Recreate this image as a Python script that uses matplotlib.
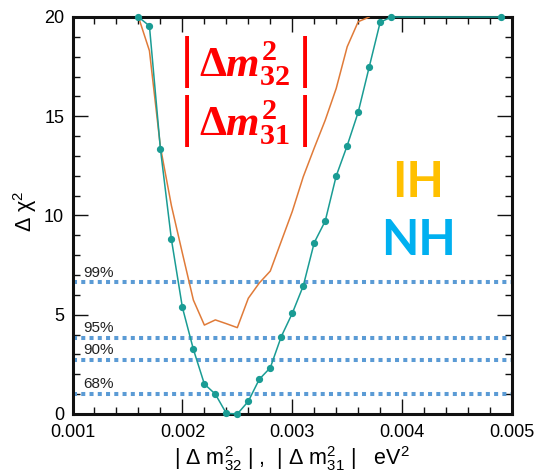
import matplotlib
matplotlib.use("Agg")
import matplotlib.pyplot as plt
from matplotlib.ticker import MultipleLocator, FixedLocator

plt.rcParams['font.family'] = ['Liberation Sans', 'DejaVu Sans']
plt.rcParams['mathtext.fontset'] = 'custom'
plt.rcParams['mathtext.rm'] = 'Liberation Sans'
plt.rcParams['mathtext.it'] = 'Liberation Serif:italic:bold'
plt.rcParams['mathtext.bf'] = 'Liberation Serif:bold'
plt.rcParams['mathtext.default'] = 'regular'

# ---- data ----
nh_x = [0.0016, 0.0017, 0.0018, 0.0019, 0.0020, 0.0021, 0.0022, 0.0023, 0.0024,
        0.0025, 0.0026, 0.0027, 0.0028, 0.0029, 0.0030, 0.0031, 0.0032, 0.0033,
        0.0034, 0.0035, 0.0036, 0.0037, 0.0038, 0.0039, 0.0049]
nh_y = [20.0, 19.55, 13.35, 8.8, 5.37, 3.26, 1.51, 1.0, 0.03,
        0.0, 0.64, 1.75, 2.33, 3.9, 5.07, 6.45, 8.63, 9.72,
        11.99, 13.52, 15.2, 17.47, 19.73, 20.0, 20.0]

ih_x = [0.0016, 0.0017, 0.0018, 0.0019, 0.0020, 0.0021, 0.0022, 0.0023, 0.0024,
        0.0025, 0.0026, 0.0027, 0.0028, 0.0029, 0.0030, 0.0031, 0.0032, 0.0033,
        0.0034, 0.0035, 0.0036, 0.0037]
ih_y = [20.0, 18.3, 13.45, 10.5, 8.1, 5.74, 4.48, 4.74, 4.55,
        4.35, 5.83, 6.6, 7.2, 8.7, 10.2, 11.95, 13.4, 14.8,
        16.4, 18.5, 19.76, 20.0]

cl_levels = [1.0, 2.71, 3.84, 6.63]
cl_labels = ['68%', '90%', '95%', '99%']

x_ticks = [0.001, 0.002, 0.003, 0.004, 0.005]
x_ticklabels = ['0.001', '0.002', '0.003', '0.004', '0.005']
y_ticks = [0, 5, 10, 15, 20]

# ---- figure ----
fig = plt.figure(figsize=(5.36, 4.72), dpi=100)
ax = fig.add_axes([0.1353, 0.1229, 0.8199, 0.8411])

for lev, lab in zip(cl_levels, cl_labels):
    ax.axhline(lev, color='#5b9bd5', lw=2.9, ls=(0, (1, 1.05)),
               dash_capstyle='butt', zorder=2)
    ax.annotate(lab, xy=(0.0011, lev), xytext=(0, 2), textcoords='offset points',
                ha='left', va='bottom', fontsize=11, color='#222222', zorder=3)

ax.plot(ih_x, ih_y, color='#e07b39', lw=1.1, zorder=4, clip_on=True)
ax.plot(nh_x, nh_y, color='#1a9c94', lw=1.1, marker='o', ms=4.2,
        zorder=5, clip_on=False)

ax.set_xlim(0.001, 0.005)
ax.set_ylim(0, 20)
ax.xaxis.set_major_locator(FixedLocator(x_ticks))
ax.set_xticklabels(x_ticklabels)
ax.xaxis.set_minor_locator(MultipleLocator(0.0002))
ax.yaxis.set_major_locator(FixedLocator(y_ticks))
ax.yaxis.set_minor_locator(MultipleLocator(1))

ax.tick_params(which='both', direction='in', top=True, right=True,
               color='#111111', width=1.0, labelsize=13)
ax.tick_params(which='major', length=11)
ax.tick_params(axis='x', which='major', pad=7.5)
ax.tick_params(axis='y', which='major', pad=6)
ax.tick_params(which='minor', length=5)
for s in ax.spines.values():
    s.set_linewidth(2.2)
    s.set_color('#111111')

ax.set_xlabel(r'| Δ m$^{2}_{32}$ | ,  | Δ m$^{2}_{31}$ |   eV$^{2}$',
              fontsize=15.5, labelpad=2)
ax.set_ylabel(r'Δ χ$^{2}$', fontsize=15.5)
ax.yaxis.set_label_coords(-0.076, 0.51)

red_kw = dict(color='#ff0000', ha='center', va='center',
              family='Liberation Serif', fontweight='bold')
fig.text(0.457, 0.866, r'$\Delta\mathit{m}^{2}_{32}$', fontsize=31, **red_kw)
fig.text(0.457, 0.741, r'$\Delta\mathit{m}^{2}_{31}$', fontsize=31, **red_kw)
bar_kw = dict(color='#ff0000', ha='center', va='center',
              family='Liberation Serif', fontweight='bold', fontsize=40)
for yy in (0.868, 0.743):
    fig.text(0.349, yy, '|', **bar_kw)
    fig.text(0.569, yy, '|', **bar_kw)

fig.text(0.780, 0.614, 'IH', fontsize=35, color='#ffc000', fontweight='bold',
         family='Lato', ha='center', va='center')
fig.text(0.780, 0.491, 'NH', fontsize=35, color='#00b0f0', fontweight='bold',
         family='Lato', ha='center', va='center')

fig.savefig('out.png', dpi=100)
